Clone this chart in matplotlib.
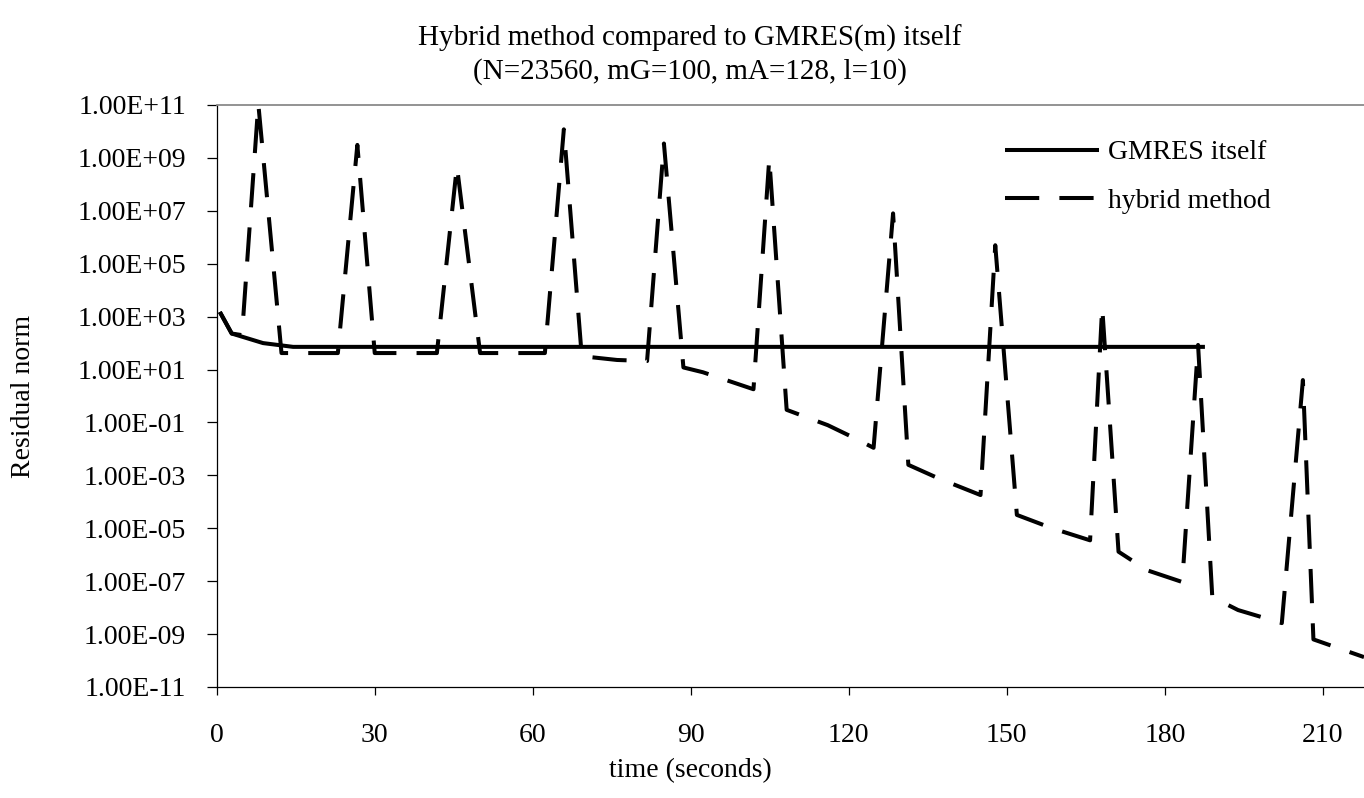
import matplotlib
matplotlib.use("Agg")
import matplotlib.pyplot as plt
from matplotlib.ticker import FixedLocator, FuncFormatter

plt.rcParams["font.family"] = ["Liberation Serif", "DejaVu Serif"]

# GMRES(m) restarted on its own
gmres_time = [0.6, 2.85, 8.8, 14.5, 40, 80, 120, 160, 187.6]
gmres_res = [1.5e3, 2.3e2, 1.0e2, 7.2e1, 7.2e1, 7.2e1, 7.2e1, 7.2e1, 7.2e1]

# hybrid method (GMRES + Arnoldi/least squares phases)
hybrid_time = [0.6, 2.85, 4.8, 7.9, 12.3, 23.0, 26.7, 30.0, 41.8, 45.6,
               50.0, 62.3, 65.9, 69.3, 76.0, 81.7, 84.9, 88.6, 92.3, 101.9,
               104.9, 108.2, 116.0, 121.2, 124.7, 128.4, 131.3, 136.9, 145.0,
               147.8, 151.9, 158.6, 165.8, 168.1, 171.2, 176.6, 183.3, 186.3,
               189.0, 193.9, 202.2, 206.2, 208.2, 217.8]
hybrid_res = [1.5e3, 2.3e2, 2.0e2, 1.1e11, 4.2e1, 4.2e1, 3.1e9, 4.2e1, 4.2e1, 4.9e8,
              4.2e1, 4.2e1, 1.2e10, 3.2e1, 2.3e1, 2.1e1, 3.5e9, 1.2e1, 7.9, 1.8,
              9.5e8, 3.0e-1, 7.9e-2, 2.5e-2, 1.1e-2, 8.0e6, 2.5e-3, 7.9e-4, 1.8e-4,
              5.0e5, 3.2e-5, 1.0e-5, 3.5e-6, 2.3e3, 1.3e-6, 2.6e-7, 9.3e-8, 8.5e1,
              2.5e-8, 8.1e-9, 2.6e-9, 4.0, 6.3e-10, 1.35e-10]

y_ticks = [10.0 ** k for k in range(-11, 12, 2)]
x_ticks = [0, 30, 60, 90, 120, 150, 180, 210]

W, H = 1364, 798
fig = plt.figure(figsize=(W / 100, H / 100), dpi=100)
ax = fig.add_axes([216.7 / W, 1 - 687 / H, 1 - 216.7 / W, (687 - 105) / H])

ax.plot(gmres_time, gmres_res, color="black", lw=2.9, label="GMRES itself",
        solid_capstyle="butt")
ax.plot(hybrid_time, hybrid_res, color="black", lw=2.9, linestyle=(0, (8.5, 5)),
        label="hybrid method", dash_capstyle="butt")

ax.set_yscale("log")
ax.set_ylim(1e-11, 1e11)
ax.set_xlim(0, 217.8)
ax.yaxis.set_major_locator(FixedLocator(y_ticks))
ax.yaxis.set_major_formatter(FuncFormatter(lambda v, p: f"{v:.2E}"))
ax.yaxis.set_minor_locator(FixedLocator([]))
ax.set_xticks(x_ticks)

ax.spines["right"].set_visible(False)
ax.spines["top"].set_color("#8a8a8a")
ax.spines["top"].set_linewidth(1.3)
for s in ("left", "bottom"):
    ax.spines[s].set_color("black")
    ax.spines[s].set_linewidth(0.9)

ax.tick_params(axis="y", direction="out", length=7, width=0.9, pad=15,
               labelsize=20)
ax.tick_params(axis="x", direction="out", length=6, width=0.9, pad=20,
               labelsize=20)

fig.text(0.506, 1 - 38 / H, "Hybrid method compared to GMRES(m) itself",
         ha="center", va="center", fontsize=21)
fig.text(0.506, 1 - 72 / H, "(N=23560, mG=100, mA=128, l=10)",
         ha="center", va="center", fontsize=21)
fig.text(24 / W, 1 - 396 / H, "Residual norm", rotation=90,
         ha="center", va="center", fontsize=20)
fig.text(0.506, 1 - 771 / H, "time (seconds)", ha="center", va="center",
         fontsize=20)

ax.legend(loc="upper left", bbox_to_anchor=(1005 / W, 1 - 140 / H),
          bbox_transform=fig.transFigure, frameon=False, fontsize=20,
          handlelength=3.4, handletextpad=0.3, labelspacing=0.82,
          borderpad=0, borderaxespad=0)

fig.savefig("out.png", dpi=100)
